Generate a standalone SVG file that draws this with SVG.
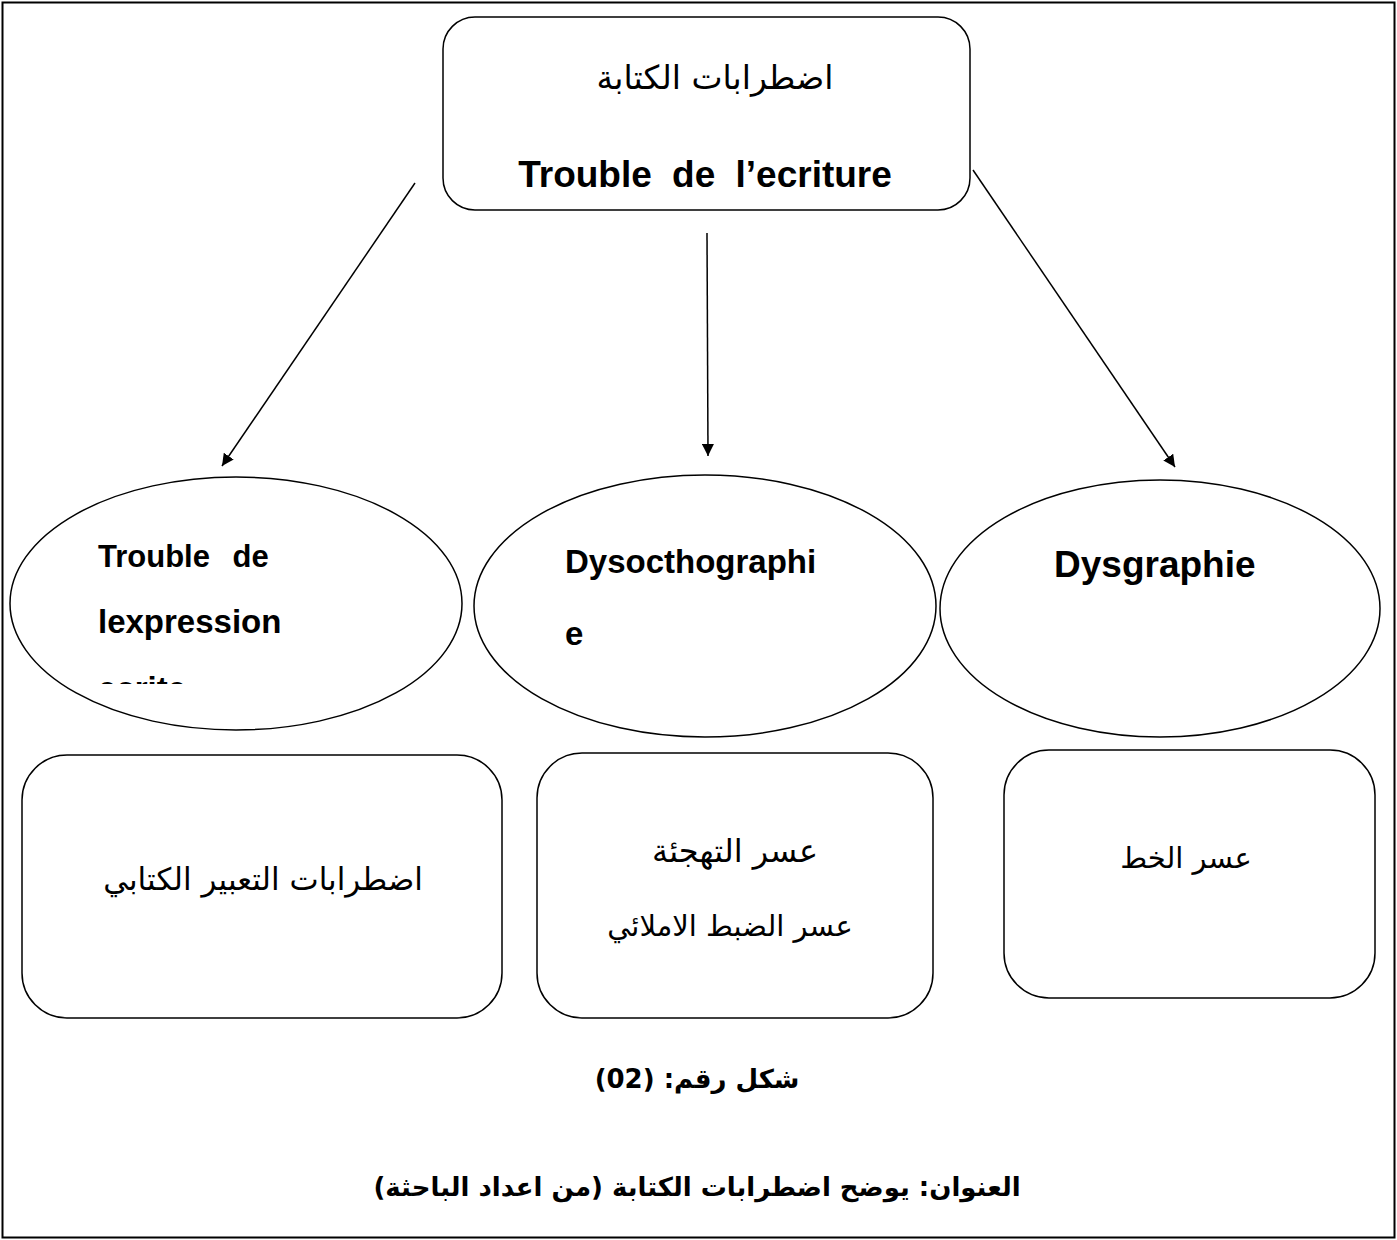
<svg xmlns="http://www.w3.org/2000/svg" width="1397" height="1240" viewBox="0 0 1397 1240">
<style>
.box{fill:#fff;stroke:#000;stroke-width:1.5}
.ar{font-family:"DejaVu Sans",sans-serif;fill:#000}
.en{font-family:"Liberation Sans",Arial,sans-serif;font-weight:bold;fill:#000}
.cap{font-family:"DejaVu Sans",serif;font-weight:bold;fill:#000}
.conn{stroke:#000;stroke-width:1.5;fill:none}
</style>
<defs>
<marker id="arr" viewBox="0 0 10 10" refX="10" refY="5" markerWidth="12" markerHeight="12" markerUnits="userSpaceOnUse" orient="auto"><path d="M0,0 L10,5 L0,10 z" fill="#000"/></marker>
<clipPath id="clipL"><rect x="0" y="0" width="470" height="684"/></clipPath>
</defs>
<rect x="2.5" y="2.5" width="1392" height="1235" fill="#fff" stroke="#000" stroke-width="2"/>
<g id="top">
<rect class="box" x="443" y="17" width="527" height="193" rx="32"/>
<text class="ar" x="715" y="89" font-size="33" text-anchor="middle" direction="rtl">اضطرابات الكتابة</text>
<text class="en" x="705" y="187" font-size="37" word-spacing="10" text-anchor="middle">Trouble de l’ecriture</text>
</g>
<g id="connectors">
<line class="conn" x1="415" y1="183" x2="222" y2="466" marker-end="url(#arr)"/>
<line class="conn" x1="707" y1="233" x2="708" y2="456" marker-end="url(#arr)"/>
<line class="conn" x1="973" y1="170" x2="1175" y2="467" marker-end="url(#arr)"/>
</g>
<g id="ell-left">
<ellipse class="box" cx="236" cy="603.5" rx="226" ry="126.5"/>
<text class="en" x="98" y="567" font-size="31" word-spacing="14">Trouble de</text>
<text class="en" x="98" y="633" font-size="33">lexpression</text>
<text class="en" x="98" y="700" font-size="33" clip-path="url(#clipL)">ecrite</text>
</g>
<g id="ell-mid">
<ellipse class="box" cx="705" cy="606" rx="231" ry="131"/>
<text class="en" x="565" y="573" font-size="33">Dysocthographi</text>
<text class="en" x="565" y="645" font-size="33">e</text>
</g>
<g id="ell-right">
<ellipse class="box" cx="1160" cy="608.5" rx="220" ry="128.5"/>
<text class="en" x="1054" y="577" font-size="37">Dysgraphie</text>
</g>
<g id="box-left">
<rect class="box" x="22" y="755" width="480" height="263" rx="45"/>
<text class="ar" x="263" y="890" font-size="31" text-anchor="middle" direction="rtl">اضطرابات التعبير الكتابي</text>
</g>
<g id="box-mid">
<rect class="box" x="537" y="753" width="396" height="265" rx="45"/>
<text class="ar" x="735" y="862" font-size="32" text-anchor="middle" direction="rtl">عسر التهجئة</text>
<text class="ar" x="730" y="936" font-size="29" text-anchor="middle" direction="rtl">عسر الضبط الاملائي</text>
</g>
<g id="box-right">
<rect class="box" x="1004" y="750" width="371" height="248" rx="45"/>
<text class="ar" x="1186" y="868" font-size="29" text-anchor="middle" direction="rtl">عسر الخط</text>
</g>
<g id="caption">
<text class="cap" x="697" y="1088" font-size="26" text-anchor="middle" direction="rtl">شكل رقم: (02)</text>
<text class="cap" x="697" y="1196" font-size="26" text-anchor="middle" direction="rtl">العنوان: يوضح اضطرابات الكتابة (من اعداد الباحثة)</text>
</g>
</svg>
